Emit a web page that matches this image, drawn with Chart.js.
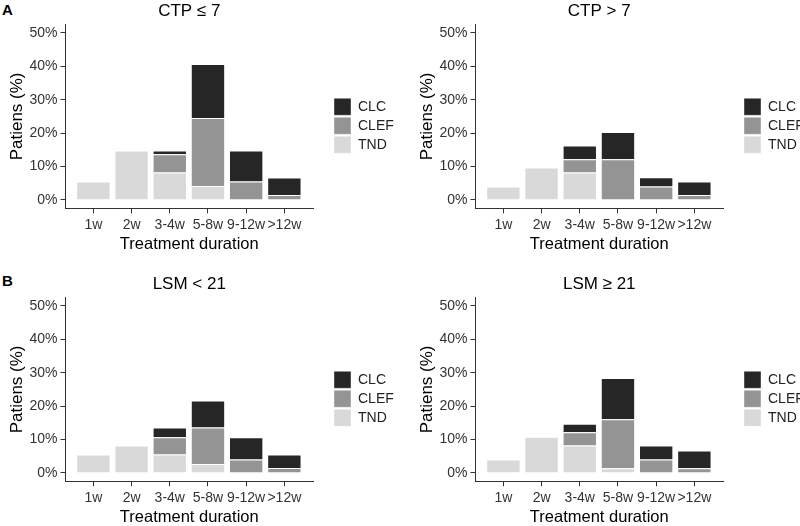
<!DOCTYPE html>
<html>
<head>
<meta charset="utf-8">
<script src="https://cdn.jsdelivr.net/npm/chart.js@4.4.1/dist/chart.umd.min.js"></script>
<style>
  body { margin: 0; width: 800px; height: 526px; overflow: hidden; background: #fff; position: relative;
         font-family: "Liberation Sans", Arial, sans-serif; }
  canvas { position: absolute; }
  .tag { position: absolute; font-weight: bold; font-size: 15px; color: #000; line-height: 1; }
</style>
</head>
<body>
<div class="tag" style="left:2px;top:2px">A</div>
<div class="tag" style="left:2px;top:273px">B</div>
<canvas id="ctpLow" width="400" height="272" style="left:0;top:0"></canvas>
<canvas id="ctpHigh" width="400" height="272" style="left:410px;top:0"></canvas>
<canvas id="lsmLow" width="400" height="272" style="left:0;top:273px"></canvas>
<canvas id="lsmHigh" width="400" height="272" style="left:410px;top:273px"></canvas>
<script>
// categories and tick labels
const durations = ["1w", "2w", "3-4w", "5-8w", "9-12w", ">12w"];
const yTicks = [0, 10, 20, 30, 40, 50];

// CTP <= 7 (% of patients)
const ctpLowTND  = [5.5, 14.8, 8.2, 4.2, 0, 0];
const ctpLowCLEF = [0, 0, 5.5, 20.3, 5.5, 1.5];
const ctpLowCLC  = [0, 0, 1.1, 16.2, 9.3, 5.2];

// CTP > 7
const ctpHighTND  = [4.0, 9.7, 8.2, 0, 0, 0];
const ctpHighCLEF = [0, 0, 4.0, 12.2, 4.0, 1.5];
const ctpHighCLC  = [0, 0, 4.1, 8.1, 2.8, 4.0];

// LSM < 21
const lsmLowTND  = [5.5, 8.2, 5.5, 2.7, 0, 0];
const lsmLowCLEF = [0, 0, 5.2, 10.9, 4.0, 1.5];
const lsmLowCLC  = [0, 0, 2.9, 8.1, 6.7, 4.0];

// LSM >= 21
const lsmHighTND  = [4.0, 10.8, 8.2, 1.4, 0, 0];
const lsmHighCLEF = [0, 0, 4.0, 14.7, 4.0, 1.4];
const lsmHighCLC  = [0, 0, 2.5, 12.3, 4.2, 5.3];

Chart.defaults.font.family = '"Liberation Sans", Arial, sans-serif';

const toPoints = arr => arr.map((v, i) => ({ x: i + 1, y: v }));

// puts the legend next to the plot like ggplot does
const legendPlace = {
  id: "legendPlace",
  afterLayout(chart) {
    const l = chart.legend;
    const w = l.width;
    l.left = 332;
    l.right = 332 + w;
    l.top = 96.3;
    l.bottom = chart.height;
  }
};

function makePanel(id, title, tnd, clef, clc) {
  const bar = (label, data, color) => ({
    label: label,
    data: toPoints(data),
    backgroundColor: color,
    borderColor: "rgba(255,255,255,0.4)",
    borderWidth: 1,
    categoryPercentage: 0.9,
    barPercentage: 1
  });
  new Chart(document.getElementById(id), {
    type: "bar",
    data: {
      datasets: [
        bar("TND", tnd, "#d9d9d9"),
        bar("CLEF", clef, "#949494"),
        bar("CLC", clc, "#262626")
      ]
    },
    options: {
      responsive: false,
      animation: false,
      layout: { padding: { top: 0, left: 0, right: 15.2, bottom: 0 } },
      scales: {
        x: {
          type: "linear",
          stacked: true,
          min: 0.27,
          max: 6.75,
          offset: false,
          afterBuildTicks: s => { s.ticks = durations.map((d, i) => ({ value: i + 1 })); },
          afterFit: s => { s.height = 63.7; },
          ticks: { callback: v => durations[v - 1], font: { size: 14 }, color: "#333",
                   padding: 3, maxRotation: 0, autoSkip: false },
          grid: { drawOnChartArea: false, offset: false, color: "#333", tickLength: 5 },
          border: { color: "#333", width: 1 },
          title: { display: true, text: "Treatment duration", font: { size: 16.5 }, color: "#000",
                   padding: { top: 0, bottom: 17.6 } }
        },
        y: {
          stacked: true,
          min: -2.5,
          max: 52.5,
          afterBuildTicks: s => { s.ticks = yTicks.map(v => ({ value: v })); },
          afterFit: s => { s.width = 65.5; },
          ticks: { callback: v => v + "%", font: { size: 14 }, color: "#333", padding: 3 },
          grid: { drawOnChartArea: false, color: "#333", tickLength: 5 },
          border: { color: "#333", width: 1 },
          title: { display: true, text: "Patiens (%)", font: { size: 17 }, color: "#000",
                   padding: { top: 7.3, bottom: 0 } }
        }
      },
      plugins: {
        title: { display: true, text: title, fullSize: false, font: { size: 17, weight: "normal" },
                 color: "#000", padding: { top: 0.8, bottom: 3.3 } },
        legend: {
          position: "right",
          align: "start",
          reverse: true,
          labels: { boxWidth: 17, boxHeight: 17, padding: 2, font: { size: 14 }, color: "#222" }
        },
        tooltip: { enabled: false }
      }
    },
    plugins: [legendPlace]
  });
}

makePanel("ctpLow", "CTP ≤ 7", ctpLowTND, ctpLowCLEF, ctpLowCLC);
makePanel("ctpHigh", "CTP > 7", ctpHighTND, ctpHighCLEF, ctpHighCLC);
makePanel("lsmLow", "LSM < 21", lsmLowTND, lsmLowCLEF, lsmLowCLC);
makePanel("lsmHigh", "LSM ≥ 21", lsmHighTND, lsmHighCLEF, lsmHighCLC);
</script>
</body>
</html>
